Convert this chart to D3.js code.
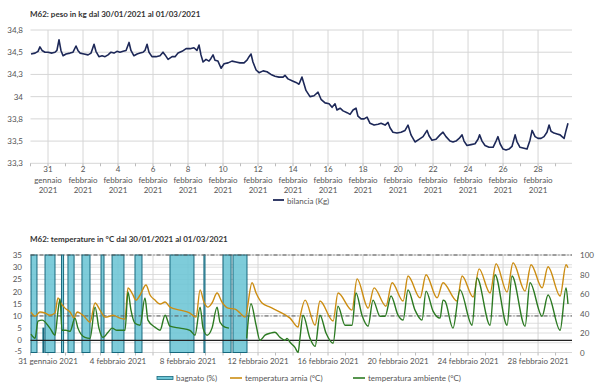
<!DOCTYPE html>
<html><head><meta charset="utf-8">
<script src="https://cdn.jsdelivr.net/npm/d3@7"></script>
<style>
body{margin:0;background:#fff;}
svg{font-family:Lato,"Open Sans",sans-serif;}
</style></head><body>
<svg id="c" width="600" height="392"></svg>
<script>
// ---------- DATA ----------
const startDate = new Date(2021, 0, 30);
const titleTop = "M62: peso in kg dal 30/01/2021 al 01/03/2021";
const titleBottom = "M62: temperature in °C dal 30/01/2021 al 01/03/2021";
const legendTop = "bilancia (Kg)";
const legendBottom = ["bagnato (%)", "temperatura arnia (°C)", "temperatura ambiente (°C)"];
const monthsIt = ["gennaio", "febbraio", "marzo"];

// weight: days since 30/01/2021 00:00, kg
const weightDays = [0.03,0.26,0.43,0.54,0.66,0.83,1.0,1.23,1.4,1.51,1.63,1.74,1.86,2.03,2.26,2.43,2.6,2.71,2.83,3.06,3.29,3.46,3.63,3.74,3.91,4.09,4.26,4.43,4.6,4.77,4.94,5.11,5.29,5.46,5.63,5.74,5.91,6.09,6.26,6.43,6.54,6.66,6.77,6.94,7.17,7.4,7.57,7.69,7.86,8.09,8.26,8.43,8.66,8.89,9.11,9.34,9.51,9.63,9.74,9.86,10.03,10.2,10.31,10.43,10.54,10.71,10.89,11.06,11.29,11.51,11.74,11.97,12.2,12.37,12.49,12.6,12.71,12.89,13.06,13.29,13.51,13.74,13.97,14.2,14.43,14.54,14.71,14.94,15.17,15.34,15.51,15.74,15.97,16.2,16.43,16.6,16.83,17.06,17.23,17.4,17.51,17.69,17.86,18.09,18.26,18.43,18.6,18.71,18.89,19.06,19.23,19.4,19.63,19.86,20.03,20.26,20.43,20.54,20.71,20.94,21.17,21.4,21.57,21.74,21.97,22.2,22.43,22.66,22.77,22.94,23.17,23.4,23.57,23.74,23.97,24.14,24.31,24.49,24.66,24.77,24.94,25.17,25.4,25.57,25.66,25.8,25.97,26.2,26.43,26.6,26.71,26.83,27.0,27.17,27.34,27.51,27.69,27.8,27.97,28.2,28.37,28.54,28.66,28.83,29.0,29.17,29.34,29.51,29.63,29.74,29.91,30.09,30.26,30.37,30.49,30.6,30.71];
const weightKg = [34.48,34.49,34.51,34.56,34.52,34.50,34.50,34.49,34.50,34.52,34.64,34.52,34.46,34.48,34.49,34.50,34.57,34.52,34.49,34.48,34.47,34.49,34.59,34.51,34.45,34.46,34.45,34.47,34.50,34.49,34.51,34.50,34.51,34.52,34.61,34.52,34.46,34.48,34.49,34.50,34.52,34.59,34.50,34.45,34.45,34.46,34.50,34.47,34.42,34.45,34.45,34.49,34.51,34.54,34.54,34.55,34.52,34.58,34.47,34.39,34.42,34.40,34.43,34.47,34.41,34.40,34.32,34.37,34.38,34.40,34.39,34.38,34.38,34.41,34.45,34.48,34.39,34.30,34.27,34.29,34.28,34.25,34.23,34.22,34.22,34.24,34.20,34.18,34.16,34.14,34.22,34.07,34.00,34.01,34.05,33.97,33.93,33.92,33.88,33.92,33.85,33.87,33.84,33.82,33.80,33.85,33.87,33.78,33.75,33.75,33.77,33.70,33.68,33.69,33.70,33.68,33.71,33.65,33.60,33.59,33.60,33.62,33.68,33.57,33.49,33.52,33.55,33.62,33.56,33.51,33.52,33.57,33.60,33.55,33.50,33.49,33.50,33.53,33.57,33.50,33.45,33.46,33.47,33.52,33.57,33.50,33.45,33.43,33.43,33.50,33.55,33.47,33.41,33.40,33.41,33.44,33.57,33.49,33.43,33.42,33.41,33.51,33.62,33.55,33.53,33.53,33.55,33.60,33.68,33.61,33.59,33.58,33.57,33.55,33.53,33.62,33.70];
const weightTicks = [33.25,33.5,33.75,34,34.25,34.5,34.75];

// wetness (bagnato %) periods: start day, end day, value
const wetStart = [0.03,0.71,0.83,1.77,2.14,2.94,4.03,4.66,5.97,7.97,9.91,11.0,11.57];
const wetEnd   = [0.37,0.74,1.40,1.89,2.49,3.40,4.20,5.34,6.37,9.34,9.97,11.46,12.37];
const wetPct   = [100,25,100,100,100,100,100,100,100,100,100,100,100];

// hive temperature (°C)
const hiveDays = [0.03,0.26,0.54,0.83,1.11,1.4,1.57,1.74,1.97,2.26,2.49,2.66,2.83,3.11,3.4,3.69,3.97,4.26,4.54,4.71,5.11,5.4,5.57,5.8,6.03,6.26,6.6,6.83,7.11,7.4,7.69,7.97,8.54,9.11,9.46,9.69,9.91,10.14,10.37,10.66,10.94,11.29,11.69,11.97,12.26,12.66,12.89,13.23,13.69,14.26,14.83,15.29,15.4,15.69,16.26,16.54,17.29,17.57,18.37,18.66,19.29,19.63,20.31,20.66,21.29,21.57,22.26,22.6,23.23,23.57,24.37,24.66,25.29,25.63,26.26,26.6,27.23,27.57,28.26,28.6,29.23,29.57,30.26,30.6,30.71];
const hiveTemp = [11.6,9.9,11.6,11.2,10.3,11.2,17.4,15.3,13.2,11.6,9.1,11.6,11.2,9.5,7.4,15.3,12.4,9.5,9.9,10.3,9.1,8.7,21.5,19.4,16.5,18.6,22.7,18.6,16.5,14.9,15.7,13.6,12.4,11.2,9.5,20.7,15.7,13.6,15.3,19.4,15.7,13.2,12.8,11.2,9.5,23.6,19.4,15.3,13.6,11.6,9.1,5.4,9.5,16.5,6.2,16.1,7.9,19.4,12.4,25.2,13.2,21.5,14.0,23.6,16.1,26.4,17.4,26.9,17.4,23.6,16.1,26.4,17.8,29.3,19.4,31.4,19.8,31.8,20.2,31.0,21.5,30.2,18.2,31.0,29.8];

// ambient temperature (°C); null = no data
const ambDays = [0.03,0.26,0.43,0.66,1.11,1.4,1.57,1.69,1.8,2.03,2.26,2.54,2.71,3.11,3.4,3.69,3.91,4.14,4.43,4.66,4.94,5.4,5.57,5.74,5.97,6.26,6.54,6.71,7.11,7.4,7.69,7.97,8.54,9.11,9.4,9.69,9.86,10.09,10.37,10.66,10.83,11.11,11.34,11.4,12.35,12.6,12.89,13.11,13.4,13.69,13.97,14.26,14.54,14.66,14.83,15.11,15.29,15.4,15.57,15.97,16.26,16.54,16.89,17.29,17.57,17.97,18.37,18.6,18.94,19.29,19.57,19.97,20.26,20.6,21.0,21.29,21.57,21.97,22.37,22.6,23.0,23.4,23.57,23.69,24.14,24.54,25.23,25.51,26.26,26.54,27.23,27.51,28.26,28.54,29.23,29.57,30.26,30.6,30.71];
const ambTemp = [2.5,0.8,7.9,8.3,5.0,2.1,12.0,17.0,4.1,4.1,3.7,9.1,5.0,1.2,0.8,13.6,5.0,1.2,3.3,5.0,4.1,4.1,19.8,12.4,7.0,6.2,17.4,8.3,5.4,4.1,10.3,5.8,5.0,4.1,2.1,13.6,5.0,2.1,5.0,13.6,7.4,5.4,5.0,null,0.8,15.0,6.2,0.0,2.1,2.9,3.3,1.2,0.0,0.8,-0.8,-2.9,-5.0,1.2,10.3,0.8,-2.5,10.3,2.9,-1.2,14.0,6.2,6.2,19.4,10.3,5.8,16.5,9.9,9.9,18.2,10.3,8.3,20.7,12.4,8.3,20.2,12.0,9.1,16.5,16.0,5.0,20.7,6.2,25.6,6.2,26.9,6.2,26.4,5.8,23.6,9.9,18.6,4.1,21.5,14.9];

const leftTicks = [-5,0,5,10,15,20,25,30,35];
const rightTicks = [0,20,40,60,80,100];
const rightMinorTicks = [10,30,50,70,90];
const thresholdDash = [35,10];
const thresholdSolid = [0];

// ---------- HELPERS ----------
const dayToDate = d => new Date(startDate.getTime() + d * 864e5);
const svg = d3.select("#c");
const gridCol = "#d6d6d6", txtCol = "#555";
const X0 = 30.5, X1 = 572;
const x = d3.scaleTime().domain([startDate, dayToDate(30.94)]).range([X0, X1]);
const days = d3.timeDay.range(new Date(2021,0,31), new Date(2021,2,1));
const gridDays = days.filter((d,i)=> i%2===0);
const allTickDays = d3.timeDay.range(new Date(2021,0,30), new Date(2021,2,2));

// ================= TOP CHART =================
const yT = d3.scaleLinear().domain([33.25, 34.75]).range([163.3, 30]);
svg.append("text").attr("x", 30).attr("y", 17).attr("font-size", 8).attr("font-weight", "bold")
  .attr("fill", "#333").text(titleTop);

const gT = svg.append("g");
gT.selectAll(".hg").data(weightTicks).join("line")
  .attr("x1", X0).attr("x2", X1).attr("y1", d=>yT(d)).attr("y2", d=>yT(d))
  .attr("stroke", gridCol).attr("stroke-width", 1);
gT.selectAll(".vg").data(gridDays).join("line")
  .attr("x1", d=>x(d)).attr("x2", d=>x(d)).attr("y1", yT(34.75)).attr("y2", yT(33.25))
  .attr("stroke", gridCol).attr("stroke-width", 1);
gT.selectAll(".tk").data(allTickDays).join("line")
  .attr("x1", d=>x(d)).attr("x2", d=>x(d)).attr("y1", yT(33.25)).attr("y2", yT(33.25)+3)
  .attr("stroke", "#bbb");
const fmtKg = d => String(Math.round(d*10)/10).replace(".", ",");
gT.selectAll(".yl").data(weightTicks).join("text")
  .attr("x", 23).attr("y", d=>yT(d)+3).attr("text-anchor", "end")
  .attr("font-size", 8).attr("fill", txtCol).text(fmtKg);
const xl = gT.selectAll(".xl").data(gridDays).join("text")
  .attr("text-anchor", "middle").attr("font-size", 8).attr("fill", txtCol);
xl.each(function(d){
  const t = d3.select(this);
  const parts = [d.getDate(), monthsIt[d.getMonth()], d.getFullYear()];
  parts.forEach((p,i)=> t.append("tspan").attr("x", x(d)).attr("y", 172 + i*10.6).text(p));
});
const wData = weightDays.map((d,i)=>({t: dayToDate(d), v: weightKg[i]}));
gT.append("path").datum(wData)
  .attr("d", d3.line().x(d=>x(d.t)).y(d=>yT(d.v)))
  .attr("fill", "none").attr("stroke", "#1d2858").attr("stroke-width", 1.6).attr("stroke-linejoin", "round");
gT.append("line").attr("x1", 273).attr("x2", 284).attr("y1", 200).attr("y2", 200)
  .attr("stroke", "#1d2858").attr("stroke-width", 1.8);
gT.append("text").attr("x", 287).attr("y", 203.5).attr("font-size", 8).attr("fill", txtCol).text(legendTop);

// ================= BOTTOM CHART =================
const yL = d3.scaleLinear().domain([-5, 35]).range([352.5, 255]);
const yR = d3.scaleLinear().domain([0, 100]).range([352.5, 255]);
svg.append("text").attr("x", 30).attr("y", 242).attr("font-size", 8).attr("font-weight", "bold")
  .attr("fill", "#333").text(titleBottom);
const gB = svg.append("g");
gB.selectAll(".hgl").data(leftTicks).join("line")
  .attr("x1", X0).attr("x2", X1).attr("y1", d=>yL(d)).attr("y2", d=>yL(d))
  .attr("stroke", gridCol).attr("stroke-width", 0.8);
gB.selectAll(".hgr").data(rightTicks.concat(rightMinorTicks)).join("line")
  .attr("x1", X0).attr("x2", X1).attr("y1", d=>yR(d)).attr("y2", d=>yR(d))
  .attr("stroke", gridCol).attr("stroke-width", 0.8);
gB.selectAll(".vg").data(gridDays).join("line")
  .attr("x1", d=>x(d)).attr("x2", d=>x(d)).attr("y1", yL(35)).attr("y2", yL(-5))
  .attr("stroke", gridCol).attr("stroke-width", 1);
gB.selectAll(".tk").data(allTickDays).join("line")
  .attr("x1", d=>x(d)).attr("x2", d=>x(d)).attr("y1", yL(-5)).attr("y2", yL(-5)+3)
  .attr("stroke", "#bbb");

// wet bars
const wet = wetStart.map((s,i)=>({s: dayToDate(s), e: dayToDate(wetEnd[i]), v: wetPct[i]}));
gB.selectAll(".wet").data(wet).join("rect")
  .attr("x", d=>x(d.s)).attr("width", d=>Math.max(1, x(d.e)-x(d.s)))
  .attr("y", d=>yR(d.v)).attr("height", d=>yR(0)-yR(d.v))
  .attr("fill", "#6cc5d5").attr("fill-opacity", 0.88)
  .attr("stroke", "#17687d").attr("stroke-width", 1);

// threshold lines
gB.selectAll(".thd").data(thresholdDash).join("line")
  .attr("x1", X0).attr("x2", X1).attr("y1", d=>yL(d)).attr("y2", d=>yL(d))
  .attr("stroke", "#555").attr("stroke-width", 1).attr("stroke-dasharray", "4,2,1,2");
gB.selectAll(".ths").data(thresholdSolid).join("line")
  .attr("x1", X0).attr("x2", X1).attr("y1", d=>yL(d)).attr("y2", d=>yL(d))
  .attr("stroke", "#222").attr("stroke-width", 1.2);

const lineT = d3.line().defined(d=>d.v!==null).x(d=>x(d.t)).y(d=>yL(d.v)).curve(d3.curveMonotoneX);
const hData = hiveDays.map((d,i)=>({t: dayToDate(d), v: hiveTemp[i]}));
const aData = ambDays.map((d,i)=>({t: dayToDate(d), v: ambTemp[i]}));
gB.append("path").datum(hData).attr("d", lineT).attr("fill", "none")
  .attr("stroke", "#cc8d12").attr("stroke-width", 1.4);
gB.append("path").datum(aData).attr("d", lineT).attr("fill", "none")
  .attr("stroke", "#2c7a22").attr("stroke-width", 1.4);

// axis labels
gB.selectAll(".yl").data(leftTicks).join("text")
  .attr("x", 22).attr("y", d=>yL(d)+(d===-5 ? 1.5 : 3)).attr("text-anchor", "end")
  .attr("font-size", 8).attr("fill", txtCol).text(d=>d);
gB.selectAll(".yr").data(rightTicks).join("text")
  .attr("x", 580).attr("y", d=>yR(d)+3).attr("text-anchor", "start")
  .attr("font-size", 8).attr("fill", txtCol).text(d=>d);
const labDays = days.filter((d,i)=> i%4===0);
gB.selectAll(".xl").data(labDays).join("text")
  .attr("x", d=>x(d)).attr("y", 363.5).attr("text-anchor", "middle")
  .attr("font-size", 8).attr("fill", txtCol)
  .text(d=> d.getDate() + " " + monthsIt[d.getMonth()] + " " + d.getFullYear());

// legend
const lg = gB.append("g");
lg.append("rect").attr("x", 157).attr("y", 376.5).attr("width", 16).attr("height", 3)
  .attr("fill", "#6cc5d5").attr("stroke", "#17687d").attr("stroke-width", 0.8);
lg.append("text").attr("x", 176).attr("y", 381).attr("font-size", 8).attr("fill", txtCol).text(legendBottom[0]);
lg.append("line").attr("x1", 230).attr("x2", 242).attr("y1", 378).attr("y2", 378).attr("stroke", "#cc8d12").attr("stroke-width", 1.6);
lg.append("text").attr("x", 245).attr("y", 381).attr("font-size", 8).attr("fill", txtCol).text(legendBottom[1]);
lg.append("line").attr("x1", 353).attr("x2", 365).attr("y1", 378).attr("y2", 378).attr("stroke", "#2c7a22").attr("stroke-width", 1.6);
lg.append("text").attr("x", 368).attr("y", 381).attr("font-size", 8).attr("fill", txtCol).text(legendBottom[2]);
</script>
</body></html>
